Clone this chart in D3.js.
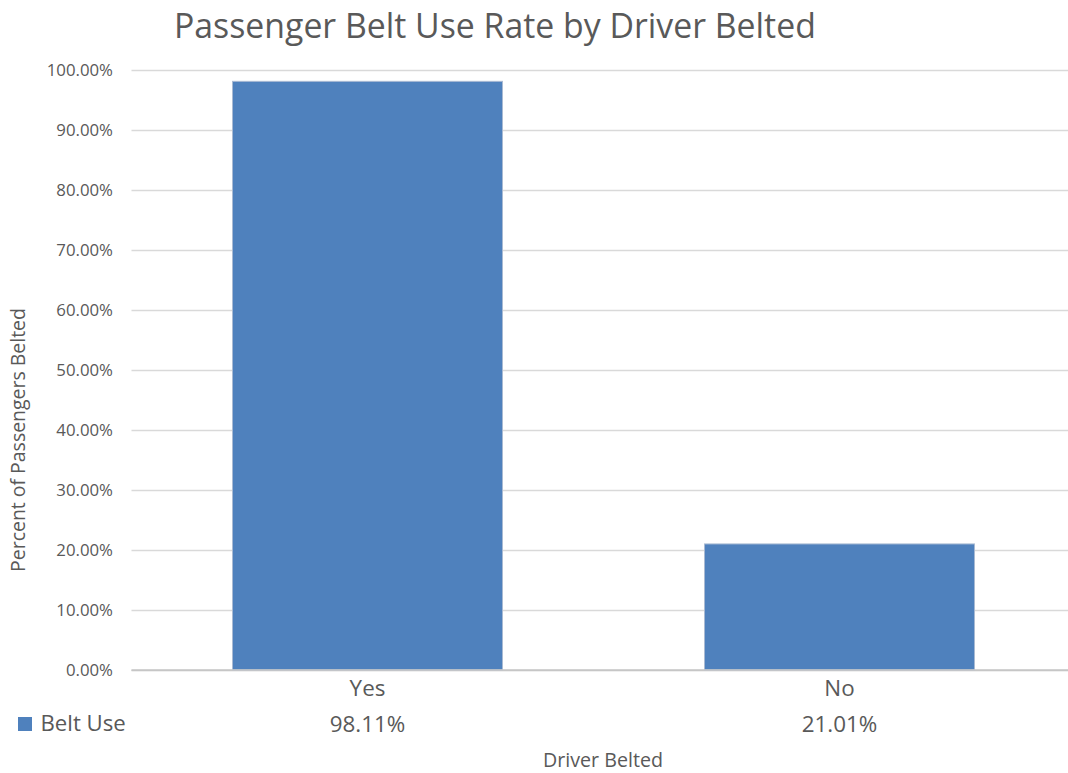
<!DOCTYPE html>
<html>
<head>
<meta charset="utf-8">
<script src="https://cdn.jsdelivr.net/npm/d3@7"></script>
<style>
  html, body { margin: 0; padding: 0; background: #ffffff; }
  svg { display: block; }
  text { font-family: "Open Sans", "Noto Sans", sans-serif; fill: #595959; }
</style>
</head>
<body>
<svg id="chart" width="1068" height="773"></svg>
<script>
// ---- data ----
const categories = ["Yes", "No"];
const beltUse = [98.11, 21.01];
const tickValues = [0, 10, 20, 30, 40, 50, 60, 70, 80, 90, 100];
const seriesName = "Belt Use";
const chartTitle = "Passenger Belt Use Rate by Driver Belted";
const xTitle = "Driver Belted";
const yTitle = "Percent of Passengers Belted";

// ---- layout ----
const W = 1068, H = 773;
const plot = { left: 131.5, right: 1075.5, top: 70, bottom: 670 };
const barColor = "#4f81bd";

const svg = d3.select("#chart");

const x = d3.scaleBand()
  .domain(categories)
  .range([plot.left, plot.right])
  .paddingInner(0.428)
  .paddingOuter(0.214);

const y = d3.scaleLinear()
  .domain([0, 100])
  .range([plot.bottom, plot.top]);

function fit(sel, target) {
  sel.style("font-size", "100px");
  const len = sel.node().getComputedTextLength();
  sel.style("font-size", (100 * target / len) + "px");
  return sel;
}

// gridlines via axis
const yAxis = d3.axisLeft(y)
  .tickValues(tickValues)
  .tickSize(-(plot.right - plot.left))
  .tickPadding(18)
  .tickFormat(d => d3.format(".2f")(d) + "%");

const gy = svg.append("g")
  .attr("transform", `translate(${plot.left},0)`)
  .call(yAxis);
gy.select(".domain").remove();
gy.selectAll(".tick line")
  .attr("stroke", d => d === 0 ? "#bfbfbf" : "#d9d9d9")
  .attr("stroke-width", 1.5);
gy.selectAll(".tick text")
  .attr("x", 113 - plot.left)
  .attr("fill", "#595959")
  .style("font-family", "'Open Sans', sans-serif")
  .style("font-size", "16.8px");

// bars
svg.append("g").selectAll("rect")
  .data(categories.map((c, i) => ({ c, v: beltUse[i] })))
  .join("rect")
  .attr("x", d => x(d.c))
  .attr("y", d => y(d.v))
  .attr("width", x.bandwidth())
  .attr("height", d => y(0) - y(d.v))
  .attr("fill", barColor)
  .attr("stroke", "#a9bad3")
  .attr("stroke-width", 1);

// redraw zero line on top
svg.append("line")
  .attr("x1", plot.left).attr("x2", plot.right)
  .attr("y1", y(0)).attr("y2", y(0))
  .attr("stroke", "#c8c8c8").attr("stroke-width", 1.5);

// category labels
svg.append("g").selectAll("text")
  .data(categories)
  .join("text")
  .attr("x", d => x(d) + x.bandwidth() / 2)
  .attr("y", 696)
  .attr("text-anchor", "middle")
  .style("font-size", "22.4px")
  .text(d => d);

// data table values
svg.append("g").selectAll("text")
  .data(categories.map((c, i) => ({ c, v: beltUse[i] })))
  .join("text")
  .attr("x", d => x(d.c) + x.bandwidth() / 2)
  .attr("y", 732)
  .attr("text-anchor", "middle")
  .style("font-size", "22.4px")
  .text(d => d3.format(".2f")(d.v) + "%");

// legend key
svg.append("rect")
  .attr("x", 18).attr("y", 717)
  .attr("width", 14).attr("height", 14)
  .attr("fill", barColor);
svg.append("text")
  .attr("x", 40.5).attr("y", 731)
  .style("font-size", "22.2px")
  .text(seriesName);

// title
fit(svg.append("text")
  .attr("x", 174).attr("y", 37.5)
  .text(chartTitle), 642);

// x title
fit(svg.append("text")
  .attr("x", 603).attr("y", 767)
  .attr("text-anchor", "middle")
  .text(xTitle), 120);

// y title
fit(svg.append("text")
  .attr("transform", "translate(25,440) rotate(-90)")
  .attr("text-anchor", "middle")
  .text(yTitle), 264);
</script>
</body>
</html>
